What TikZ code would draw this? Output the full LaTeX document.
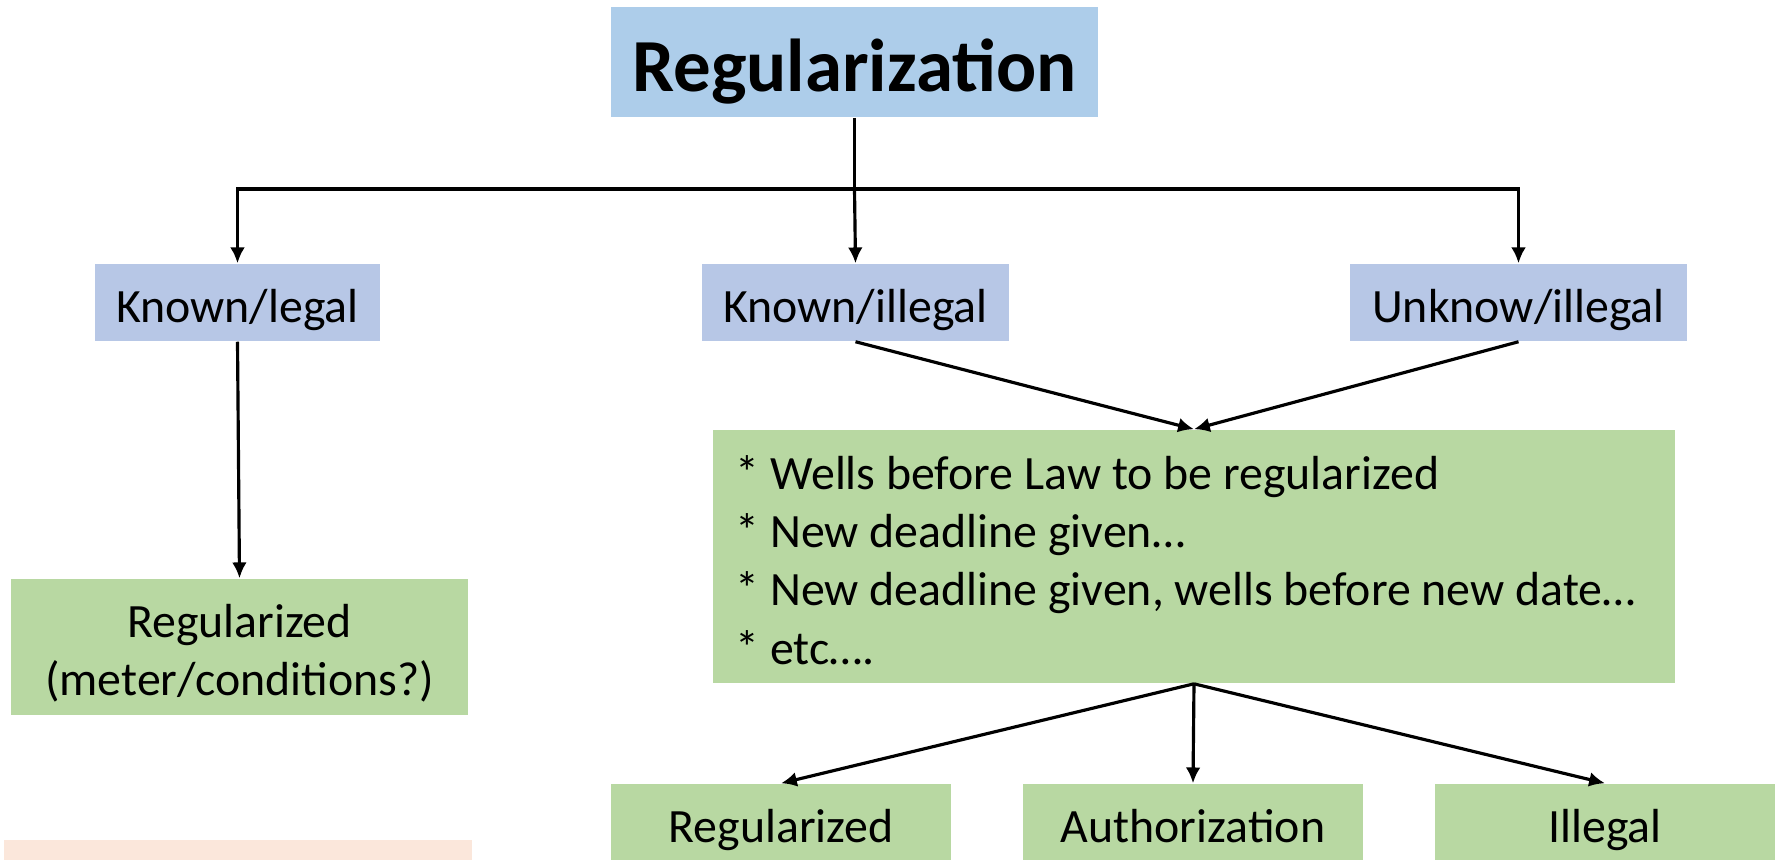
\documentclass[tikz,border=0pt]{standalone}
\usepackage{fontspec}
\setmainfont{Carlito}
\usepackage{xcolor}
\usetikzlibrary{calc,positioning,arrows.meta}

\definecolor{topblue}{HTML}{ADCDEA}
\definecolor{catblue}{HTML}{B7C7E6}
\definecolor{boxgreen}{HTML}{B8D8A2}
\definecolor{notepink}{HTML}{FBE7DB}

\newcommand{\wellsitem}{\hspace*{0.23cm}{*} }

\begin{document}
\begin{tikzpicture}[x=0.01cm,y=-0.01cm]

     \tikzstyle{every node}=[inner sep=0pt,font=\fontsize{13.6}{16.6}\selectfont]
     \tikzstyle{oneline}=[text height=11.6pt,text depth=0pt,minimum height=0.77cm]
     \tikzstyle{cat}=[fill=catblue,oneline]
     \tikzstyle{res}=[fill=boxgreen]
     \tikzstyle{arr}=[line width=0.9pt,-{Latex[length=4.5pt,width=4.2pt]}]
     \useasboundingbox (0,0) rectangle (1775,859);

     \node at (854.5,62)[fill=topblue,minimum width=4.87cm,minimum height=1.1cm,text height=16.5pt,text depth=0pt,font=\fontsize{21.3}{26}\selectfont\bfseries](reg){Regularization};
     \node at (237.5,302.5)[cat,minimum width=2.85cm](known){Known/legal};
     \node at (855.5,302.5)[cat,minimum width=3.07cm](knownill){Known/illegal};
     \node at (1518.5,302.5)[cat,minimum width=3.37cm](unknownill){Unknow/illegal};
     \node at (239.5,647)[res,text width=4.57cm,minimum height=1.36cm,align=flush center](regmeter){\rule{0pt}{14.9pt}Regularized\\(meter/conditions?)\rule[-4pt]{0pt}{4pt}};
     \node at (1194,556.5)[res,text width=9.62cm,minimum height=2.53cm,align=flush left](wells){\rule{0pt}{15.4pt}\wellsitem Wells before Law to be regularized\\\wellsitem New deadline given…\\\wellsitem New deadline given, wells before new date…\\\wellsitem etc….\rule[-4pt]{0pt}{4pt}};
     \node at (781,822.5)[res,oneline,minimum width=3.4cm](regd){Regularized};
     \node at (1193,822.5)[res,oneline,minimum width=3.4cm](auth){Authorization};
     \node at (1605,822.5)[res,oneline,minimum width=3.4cm](illegal){Illegal};
     \node at (238,852.5)[fill=notepink,minimum width=4.68cm,minimum height=0.25cm](note){};

     \coordinate (hub) at (854.5,189);
     \draw[line width=0.9pt](reg.south)--(hub);
     \draw[arr](hub)-|(known.north);
     \draw[arr](hub)--(knownill.north);
     \draw[arr](hub)-|(unknownill.north);
     \draw[arr](known.south)--(regmeter.north);
     \draw[arr](knownill.south)--(wells.north);
     \draw[arr](unknownill.south)--(wells.north);
     \draw[arr](wells.south)--(regd.north);
     \draw[arr](wells.south)--(auth.north);
     \draw[arr](wells.south)--(illegal.north);

\end{tikzpicture}
\end{document}
